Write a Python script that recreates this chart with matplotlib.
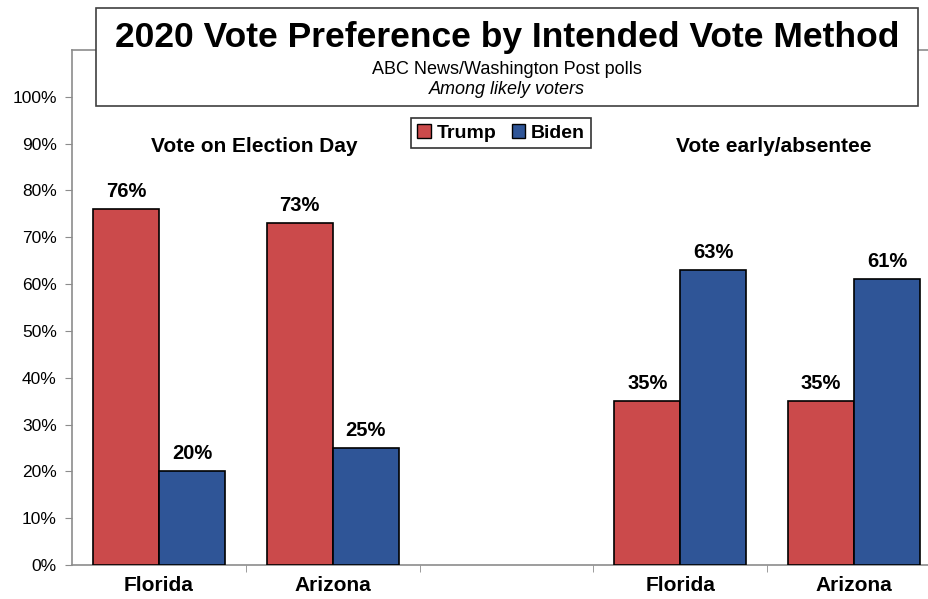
import matplotlib.pyplot as plt
from matplotlib.patches import Rectangle

plt.rcParams['font.family'] = ['Liberation Sans', 'DejaVu Sans']

# Data
states = ["Florida", "Arizona", "", "Florida", "Arizona"]
trump = [76, 73, None, 35, 35]
biden = [20, 25, None, 63, 61]
group_labels = ["Vote on Election Day", "Vote early/absentee"]
yticks = [0, 10, 20, 30, 40, 50, 60, 70, 80, 90, 100]

red = "#CB4A4B"
blue = "#2F5597"
axis_grey = "#8C8C8C"

W, H = 929, 599
fig = plt.figure(figsize=(W / 100, H / 100), dpi=100)
ax = fig.add_axes([72 / W, (H - 565) / H, (941 - 72) / W, (565 - 50) / H])

bw = 0.38
for i in range(len(states)):
    if trump[i] is None:
        continue
    ax.bar(i - bw / 2, trump[i], bw, color=red, edgecolor="black", linewidth=1.2, zorder=3)
    ax.bar(i + bw / 2, biden[i], bw, color=blue, edgecolor="black", linewidth=1.2, zorder=3)
    for x, v in [(i - bw / 2, trump[i]), (i + bw / 2, biden[i])]:
        ax.text(x, v + 1.8, f"{v}%", ha="center", va="bottom", fontsize=14.5, fontweight="bold")

ax.set_xlim(-0.5, 4.5)
ax.set_ylim(0, 110)
ax.set_yticks(yticks)
ax.set_yticklabels([f"{t}%" for t in yticks], fontsize=12.5)
ax.set_xticks(range(len(states)))
ax.set_xticklabels(states, fontsize=15, fontweight="bold")
ax.tick_params(axis="x", length=0, pad=8)
ax.set_xticks([0.5, 1.5, 2.5, 3.5], minor=True)
ax.tick_params(axis="x", which="minor", length=5, color=axis_grey)
ax.tick_params(axis="y", length=5, color=axis_grey, direction="out", pad=6)
for s in ["left", "bottom", "top"]:
    ax.spines[s].set_color(axis_grey)
    ax.spines[s].set_linewidth(1.2)
ax.spines["right"].set_visible(False)

# group headers
ax.text(0.55, 89.3, group_labels[0], ha="center", va="center", fontsize=15, fontweight="bold")
ax.text(3.535, 89.3, group_labels[1], ha="center", va="center", fontsize=15, fontweight="bold")

# legend
handles = [Rectangle((0, 0), 1, 1, facecolor=red, edgecolor="black"),
           Rectangle((0, 0), 1, 1, facecolor=blue, edgecolor="black")]
leg = fig.legend(handles, ["Trump", "Biden"], loc="center", bbox_to_anchor=(501 / W, 1 - 133 / H),
                 ncol=2, frameon=True, fancybox=False, edgecolor="black",
                 prop={"size": 14, "weight": "bold"}, handlelength=0.7, handleheight=0.7,
                 handletextpad=0.3, columnspacing=0.8, borderpad=0.3)
leg.get_frame().set_linewidth(1.2)

# title box
box = Rectangle((96 / W, 1 - 106 / H), (918 - 96) / W, (106 - 8) / H, transform=fig.transFigure,
                facecolor="white", edgecolor="#404040", linewidth=1.2, zorder=5)
fig.patches.append(box)
fig.text(507 / W, 1 - 38 / H, "2020 Vote Preference by Intended Vote Method", ha="center", va="center",
         fontsize=25.5, fontweight="bold", zorder=6)
fig.text(507 / W, 1 - 70 / H, "ABC News/Washington Post polls", ha="center", va="center",
         fontsize=13, zorder=6)
fig.text(507 / W, 1 - 89 / H, "Among likely voters", ha="center", va="center",
         fontsize=13, style="italic", zorder=6)

fig.savefig("out.png", dpi=100)
